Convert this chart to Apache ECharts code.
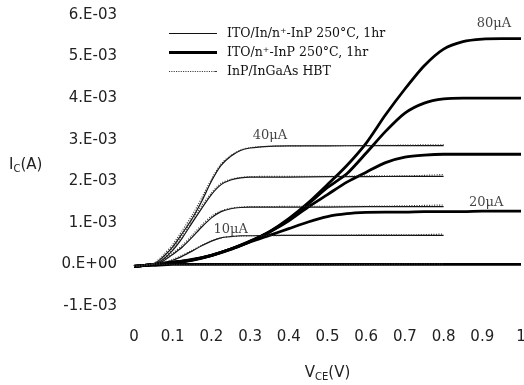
<!DOCTYPE html>
<html>
<head>
<meta charset="utf-8">
<script src="https://cdn.jsdelivr.net/npm/echarts@6/dist/echarts.min.js"></script>
<style>
html,body{margin:0;padding:0;background:#fff;}
#chart{width:524px;height:385px;}
</style>
</head>
<body>
<div id="chart"></div>
<script>
// ---- data (currents in mA, i.e. ×1e-3 A) ----
const legendNames = ['ITO/In/n\u207A-InP 250°C, 1hr', 'ITO/n\u207A-InP 250°C, 1hr', 'InP/InGaAs HBT'];

const vThin = [0, 0.05, 0.075, 0.1, 0.125, 0.15, 0.175, 0.2, 0.225, 0.25, 0.275, 0.3, 0.35, 0.4, 0.5, 0.6, 0.7, 0.8];
const thin10 = [-0.05, 0.0, 0.04, 0.10, 0.20, 0.32, 0.45, 0.56, 0.64, 0.67, 0.69, 0.69, 0.70, 0.70, 0.70, 0.70, 0.70, 0.70];
const thin20 = [-0.05, 0.0, 0.08, 0.24, 0.42, 0.65, 0.90, 1.12, 1.27, 1.34, 1.37, 1.38, 1.38, 1.38, 1.38, 1.39, 1.39, 1.39];
const thin30 = [-0.05, 0.0, 0.12, 0.34, 0.64, 1.00, 1.35, 1.68, 1.92, 2.03, 2.08, 2.10, 2.10, 2.10, 2.11, 2.11, 2.12, 2.12];
const thin40 = [-0.05, 0.0, 0.18, 0.42, 0.75, 1.10, 1.52, 2.00, 2.38, 2.60, 2.74, 2.80, 2.84, 2.85, 2.85, 2.86, 2.86, 2.86];

const hbt0  = [-0.03, 0.0, 0.0, 0.0, 0.0, 0.0, 0.0, 0.0, 0.0, 0.0, 0.0, 0.0, 0.0, 0.0, 0.0, 0.0, 0.01, 0.01];
const hbt10 = [-0.05, 0.0, 0.05, 0.12, 0.22, 0.34, 0.46, 0.57, 0.64, 0.67, 0.68, 0.69, 0.69, 0.70, 0.70, 0.71, 0.71, 0.73];
const hbt20 = [-0.05, 0.01, 0.10, 0.27, 0.46, 0.70, 0.95, 1.16, 1.29, 1.35, 1.38, 1.39, 1.39, 1.40, 1.40, 1.40, 1.41, 1.43];
const hbt30 = [-0.05, 0.01, 0.15, 0.38, 0.70, 1.06, 1.42, 1.72, 1.95, 2.05, 2.09, 2.11, 2.12, 2.12, 2.12, 2.13, 2.13, 2.16];
const hbt40 = [-0.05, 0.02, 0.22, 0.48, 0.82, 1.18, 1.60, 2.05, 2.42, 2.62, 2.75, 2.81, 2.84, 2.85, 2.86, 2.86, 2.87, 2.88];

const vThick = [0, 0.05, 0.1, 0.15, 0.2, 0.25, 0.3, 0.35, 0.4, 0.45, 0.5, 0.55, 0.6, 0.65, 0.7, 0.75, 0.8, 0.85, 0.9, 0.95, 1.0];
const thick0  = [-0.04, -0.02, 0.0, 0.0, 0.0, 0.0, 0.0, 0.0, 0.0, 0.0, 0.0, 0.0, 0.0, 0.0, 0.0, 0.0, 0.0, 0.0, 0.0, 0.0, 0.0];
const thick20 = [-0.05, 0.0, 0.04, 0.10, 0.21, 0.36, 0.54, 0.70, 0.86, 1.02, 1.15, 1.22, 1.25, 1.26, 1.26, 1.27, 1.27, 1.27, 1.28, 1.28, 1.28];
const thick40 = [-0.05, 0.0, 0.05, 0.11, 0.22, 0.37, 0.55, 0.78, 1.05, 1.38, 1.68, 1.98, 2.22, 2.45, 2.58, 2.63, 2.65, 2.65, 2.65, 2.65, 2.65];
const thick60 = [-0.05, 0.0, 0.05, 0.11, 0.22, 0.37, 0.55, 0.78, 1.08, 1.45, 1.85, 2.18, 2.68, 3.20, 3.64, 3.88, 3.98, 4.00, 4.00, 4.00, 4.00];
const thick80 = [-0.05, 0.0, 0.05, 0.12, 0.22, 0.37, 0.56, 0.79, 1.10, 1.48, 1.92, 2.38, 2.92, 3.60, 4.22, 4.78, 5.18, 5.36, 5.42, 5.43, 5.43];

const annText = ['80\u03BCA', '40\u03BCA', '20\u03BCA', '10\u03BCA'];
const annV = [0.93, 0.351, 0.91, 0.25];
const annI = [5.8, 3.10, 1.49, 0.84];

const xTicks = ['0', '0.1', '0.2', '0.3', '0.4', '0.5', '0.6', '0.7', '0.8', '0.9', '1'];

// ---- build ----
function pairs(vs, is) { return vs.map((v, k) => [v, is[k] * 1e-3]); }

const thinStyle = { color: '#111', width: 1.2 };
const thickStyle = { color: '#000', width: 2.8 };
const dotStyle = { color: '#333', width: 1.2, type: [1, 1.5] };

function mk(name, vs, is, ls, z) {
  return {
    type: 'line', name: name, data: pairs(vs, is), showSymbol: false, symbol: 'none',
    smooth: 0.25, lineStyle: ls, itemStyle: { color: ls.color }, z: z, animation: false, silent: true
  };
}

// legend icons: thin bar, thick bar, dotted bar
let dots = '';
for (let x = 0; x < 48; x += 2.4) dots += 'M' + x.toFixed(1) + ' 0h1.1v1.1h-1.1z';
const iconThin = 'path://M0 0h48v1.2h-48z';
const iconThick = 'path://M0 0h48v3h-48z';
const iconDot = 'path://' + dots + 'M47 0h1v1.1h-1z';

const series = [
  mk(legendNames[1], vThick, thick0, thickStyle, 3),
  mk(legendNames[1], vThick, thick20, thickStyle, 3),
  mk(legendNames[1], vThick, thick40, thickStyle, 3),
  mk(legendNames[1], vThick, thick60, thickStyle, 3),
  mk(legendNames[1], vThick, thick80, thickStyle, 3),
  mk(legendNames[0], vThin, thin10, thinStyle, 2),
  mk(legendNames[0], vThin, thin20, thinStyle, 2),
  mk(legendNames[0], vThin, thin30, thinStyle, 2),
  mk(legendNames[0], vThin, thin40, thinStyle, 2),
  mk(legendNames[2], vThin, hbt0, dotStyle, 4),
  mk(legendNames[2], vThin, hbt10, dotStyle, 4),
  mk(legendNames[2], vThin, hbt20, dotStyle, 4),
  mk(legendNames[2], vThin, hbt30, dotStyle, 4),
  mk(legendNames[2], vThin, hbt40, dotStyle, 4),
  {
    type: 'scatter', name: 'labels', symbolSize: 1, animation: false, silent: true, z: 6,
    itemStyle: { color: 'rgba(0,0,0,0)' },
    data: annText.map((t, k) => ({ value: [annV[k], annI[k] * 1e-3], name: t })),
    label: {
      show: true, position: 'inside', align: 'center', verticalAlign: 'middle', formatter: p => p.name,
      fontFamily: '"DejaVu Serif", serif', fontSize: 13, color: '#111'
    }
  }
];

const serifFont = '"DejaVu Serif", serif';
const chart = echarts.init(document.getElementById('chart'), null, { renderer: 'canvas' });
chart.setOption({
  backgroundColor: '#fff',
  animation: false,
  grid: { left: 134, right: 3, top: 15, bottom: 79, containLabel: false, outerBoundsMode: 'none' },
  legend: {
    data: [
      { name: legendNames[0], icon: iconThin },
      { name: legendNames[1], icon: iconThick },
      { name: legendNames[2], icon: iconDot }
    ],
    orient: 'vertical', left: 164, top: 22,
    itemWidth: 48, itemHeight: 14, itemGap: 6,
    itemStyle: { borderWidth: 0 },
    lineStyle: { width: 0 },
    textStyle: { fontFamily: serifFont, fontSize: 12.5, color: '#111', padding: [0, 0, 0, 5] },
    selectedMode: false
  },
  xAxis: {
    type: 'value', min: 0, max: 1, interval: 0.1,
    axisLine: { show: false }, axisTick: { show: false }, splitLine: { show: false },
    axisLabel: {
      margin: 24, color: '#222', fontFamily: '"DejaVu Sans", sans-serif', fontSize: 15,
      formatter: v => xTicks[Math.round(v * 10)]
    },
    name: '{a|V}{s|CE}{a|(V)}', nameLocation: 'middle', nameGap: 58,
    nameTextStyle: {
      rich: {
        a: { fontFamily: '"DejaVu Sans", sans-serif', fontSize: 15, color: '#222', lineHeight: 18 },
        s: { fontFamily: '"DejaVu Sans", sans-serif', fontSize: 10, color: '#222', lineHeight: 18, padding: [8, 0, 0, 0] }
      }
    }
  },
  yAxis: {
    type: 'value', min: -0.001, max: 0.006, interval: 0.001,
    axisLine: { show: false }, axisTick: { show: false }, splitLine: { show: false },
    axisLabel: {
      margin: 17, color: '#222', fontFamily: '"DejaVu Sans", sans-serif', fontSize: 15,
      formatter: v => { const m = Math.round(v * 1000); return m === 0 ? '0.E+00' : m + '.E-03'; }
    }
  },
  graphic: [{
    type: 'text', left: 9, top: 156, silent: true,
    style: {
      text: '{a|I}{s|C}{a|(A)}',
      rich: {
        a: { fontFamily: '"DejaVu Sans", sans-serif', fontSize: 15, fill: '#222', lineHeight: 18 },
        s: { fontFamily: '"DejaVu Sans", sans-serif', fontSize: 10, fill: '#222', lineHeight: 18, padding: [8, 0, 0, 0] }
      }
    }
  }],
  series: series
});
</script>
</body>
</html>
